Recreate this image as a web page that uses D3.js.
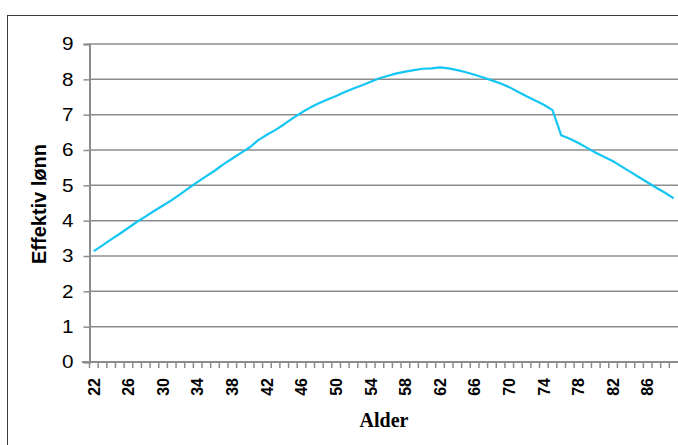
<!DOCTYPE html>
<html>
<head>
<meta charset="utf-8">
<script src="https://cdn.jsdelivr.net/npm/d3@7"></script>
<style>
    body { margin: 0; background: #fff; }
    svg { display: block; }
</style>
</head>
<body>
<svg id="chart" width="678" height="445"></svg>
<script>
// ages on the x axis
const ages = d3.range(22, 90);

// effektiv lønn per age
const lonn = [
    3.14, 3.3, 3.47, 3.63, 3.8, 3.97, 4.12, 4.28, 4.43, 4.58,
    4.75, 4.93, 5.1, 5.26, 5.42, 5.6, 5.76, 5.92, 6.07, 6.28,
    6.43, 6.57, 6.73, 6.9, 7.06, 7.2, 7.32, 7.43, 7.53, 7.64,
    7.74, 7.83, 7.93, 8.03, 8.1, 8.17, 8.22, 8.26, 8.3, 8.31,
    8.34, 8.31, 8.26, 8.2, 8.13, 8.05, 7.97, 7.88, 7.78, 7.65,
    7.52, 7.4, 7.28, 7.13, 6.42, 6.32, 6.2, 6.06, 5.92, 5.8,
    5.68, 5.53, 5.38, 5.23, 5.08, 4.93, 4.79, 4.63
];

const yTicks = [0, 1, 2, 3, 4, 5, 6, 7, 8, 9];
const xLabels = ages.filter((a) => (a - 22) % 4 === 0);

const svg = d3.select('#chart');

// outer frame
svg.append('rect')
    .attr('x', 7.5)
    .attr('y', 15.5)
    .attr('width', 700)
    .attr('height', 500)
    .style('fill', 'none')
    .style('stroke', '#3a3a3a')
    .style('stroke-width', 1);

const x = d3.scaleBand().domain(ages).range([89.5, 678]);
const y = d3.scaleLinear().domain([0, 9]).range([362, 44]);

// gridlines
svg.append('g')
    .selectAll('line')
    .data(yTicks.slice(1))
    .join('line')
    .attr('x1', 89.5)
    .attr('x2', 678)
    .attr('y1', (d) => y(d))
    .attr('y2', (d) => y(d))
    .style('stroke', '#8c8c8c')
    .style('stroke-width', 1.5);

// y axis
const yAxis = svg.append('g')
    .attr('transform', 'translate(89.5,0)')
    .call(d3.axisLeft(y).tickValues(yTicks).tickSize(6).tickPadding(8));

yAxis.select('.domain').style('stroke', '#8c8c8c').style('stroke-width', 2);
yAxis.selectAll('.tick line').style('stroke', '#8c8c8c').style('stroke-width', 1.5);
yAxis.selectAll('.tick text')
    .attr('transform', 'scale(1.15,1)')
    .style('font-family', '"Liberation Sans", Arial, sans-serif')
    .style('font-size', '18px')
    .style('fill', '#000');

// x axis, ticks on band edges
const xAxis = svg.append('g').attr('transform', `translate(0,${y(0)})`);

xAxis.append('line')
    .attr('x1', 82)
    .attr('x2', 678)
    .style('stroke', '#8c8c8c')
    .style('stroke-width', 2);

xAxis.selectAll('line.tk')
    .data(ages)
    .join('line')
    .attr('class', 'tk')
    .attr('x1', (d) => x(d))
    .attr('x2', (d) => x(d))
    .attr('y1', 0)
    .attr('y2', 6)
    .style('stroke', '#8c8c8c')
    .style('stroke-width', 1.5);

xAxis.selectAll('text')
    .data(xLabels)
    .join('text')
    .attr('transform', (d) => `translate(${x(d) + x.bandwidth() / 2},16) rotate(-90)`)
    .attr('dy', '0.36em')
    .attr('text-anchor', 'end')
    .style('font-family', '"Liberation Sans", Arial, sans-serif')
    .style('font-weight', 'bold')
    .style('font-size', '16px')
    .text((d) => d);

// the line
const line = d3.line()
    .x((d, i) => x(ages[i]) + x.bandwidth() / 2)
    .y((d) => y(d));

svg.append('path')
    .datum(lonn)
    .attr('d', line)
    .style('fill', 'none')
    .style('stroke', '#13c6f4')
    .style('stroke-width', 2.2)
    .style('stroke-linejoin', 'round');

// axis titles
svg.append('text')
    .attr('transform', 'translate(46,204) rotate(-90)')
    .attr('text-anchor', 'middle')
    .style('font-family', '"Liberation Sans", Arial, sans-serif')
    .style('font-weight', 'bold')
    .style('font-size', '20px')
    .text('Effektiv lønn');

svg.append('text')
    .attr('x', 384)
    .attr('y', 427)
    .attr('text-anchor', 'middle')
    .style('font-family', '"Liberation Serif", "Times New Roman", serif')
    .style('font-weight', 'bold')
    .style('font-size', '20px')
    .text('Alder');
</script>
</body>
</html>
